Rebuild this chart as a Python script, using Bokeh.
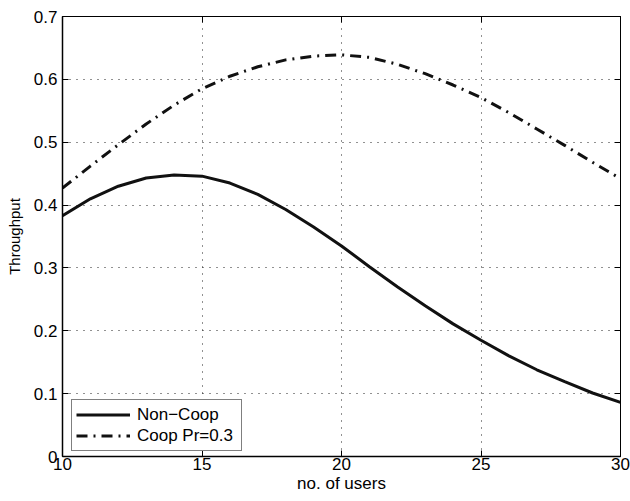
from bokeh.plotting import figure
from bokeh.models import LinearAxis, Range1d, Legend, LegendItem, FixedTicker
from bokeh.embed import file_html
from bokeh.resources import INLINE

users = list(range(10, 31))
non_coop = [0.383, 0.410, 0.430, 0.443, 0.448, 0.446, 0.435, 0.417, 0.393, 0.365,
            0.335, 0.302, 0.270, 0.240, 0.211, 0.185, 0.160, 0.138, 0.119, 0.101, 0.086]
coop = [0.427, 0.462, 0.496, 0.529, 0.559, 0.585, 0.605, 0.620, 0.631, 0.637,
        0.639, 0.635, 0.624, 0.609, 0.591, 0.571, 0.547, 0.521, 0.495, 0.468, 0.442]
x_ticks = [10, 15, 20, 25, 30]
y_ticks = [0, 0.1, 0.2, 0.3, 0.4, 0.5, 0.6, 0.7]
y_labels = ["0", "0.1", "0.2", "0.3", "0.4", "0.5", "0.6", "0.7"]

FONT = "Liberation Sans"

p = figure(width=630, height=501, output_backend="svg", toolbar_location=None,
           x_range=Range1d(10, 30), y_range=Range1d(0, 0.7),
           min_border_left=62, min_border_right=10, min_border_top=16, min_border_bottom=45)
p.background_fill_color = "white"
p.border_fill_color = "white"
p.outline_line_color = "black"
p.outline_line_width = 1

r1 = p.line(users, non_coop, line_color="#111111", line_width=3)
r2 = p.line(users, coop, line_color="#111111", line_width=3, line_dash="11 6 2 6")

for ax in p.xaxis:
    ax.ticker = FixedTicker(ticks=x_ticks)
    ax.axis_label = "no. of users"
for ax in p.yaxis:
    ax.ticker = FixedTicker(ticks=y_ticks)
    ax.major_label_overrides = {t: l for t, l in zip(y_ticks, y_labels)}
    ax.axis_label = "Throughput"

for ax in list(p.xaxis) + list(p.yaxis):
    ax.major_tick_in = 6
    ax.major_tick_out = 0
    ax.minor_tick_in = 0
    ax.minor_tick_out = 0
    ax.axis_line_color = "black"
    ax.axis_line_width = 1.5
    ax.major_tick_line_color = "black"
    ax.major_label_text_font = FONT
    ax.major_label_text_font_size = "17px"
    ax.major_label_text_color = "black"
    ax.axis_label_text_font = FONT
    ax.axis_label_text_font_size = "17px"
    ax.axis_label_text_font_style = "normal"
    ax.axis_label_text_color = "black"

p.yaxis.axis_label_text_font_size = "15px"
p.xaxis.major_label_standoff = 1
p.xaxis.axis_label_standoff = 1
p.yaxis.major_label_standoff = 5
p.yaxis.axis_label_standoff = 8

top = LinearAxis(ticker=FixedTicker(ticks=x_ticks), major_tick_in=6, major_tick_out=0,
                 minor_tick_in=0, minor_tick_out=0, major_label_text_font_size="0px",
                 major_label_text_color=None, axis_line_color="black")
right = LinearAxis(ticker=FixedTicker(ticks=y_ticks), major_tick_in=6, major_tick_out=0,
                   minor_tick_in=0, minor_tick_out=0, major_label_text_font_size="0px",
                   major_label_text_color=None, axis_line_color="black")
p.add_layout(top, "above")
p.add_layout(right, "right")

p.grid.grid_line_color = "#222222"
p.grid.grid_line_dash = "1 6"
p.grid.grid_line_width = 1
p.xgrid.ticker = FixedTicker(ticks=x_ticks)
p.ygrid.ticker = FixedTicker(ticks=y_ticks)

legend = Legend(items=[LegendItem(label="Non\u2212Coop", renderers=[r1]),
                       LegendItem(label="Coop Pr=0.3", renderers=[r2])],
                location=(9, 5))
legend.border_line_color = "black"
legend.border_line_width = 1.5
legend.background_fill_color = "white"
legend.background_fill_alpha = 1
legend.label_text_font = FONT
legend.label_text_font_size = "17px"
legend.label_text_color = "black"
legend.padding = 4
legend.spacing = 0
legend.margin = 0
legend.glyph_width = 54
legend.glyph_height = 21
legend.label_height = 21
legend.label_width = 100
legend.label_standoff = 7
p.add_layout(legend, "center")

open("out.html", "w").write(file_html(p, INLINE))
